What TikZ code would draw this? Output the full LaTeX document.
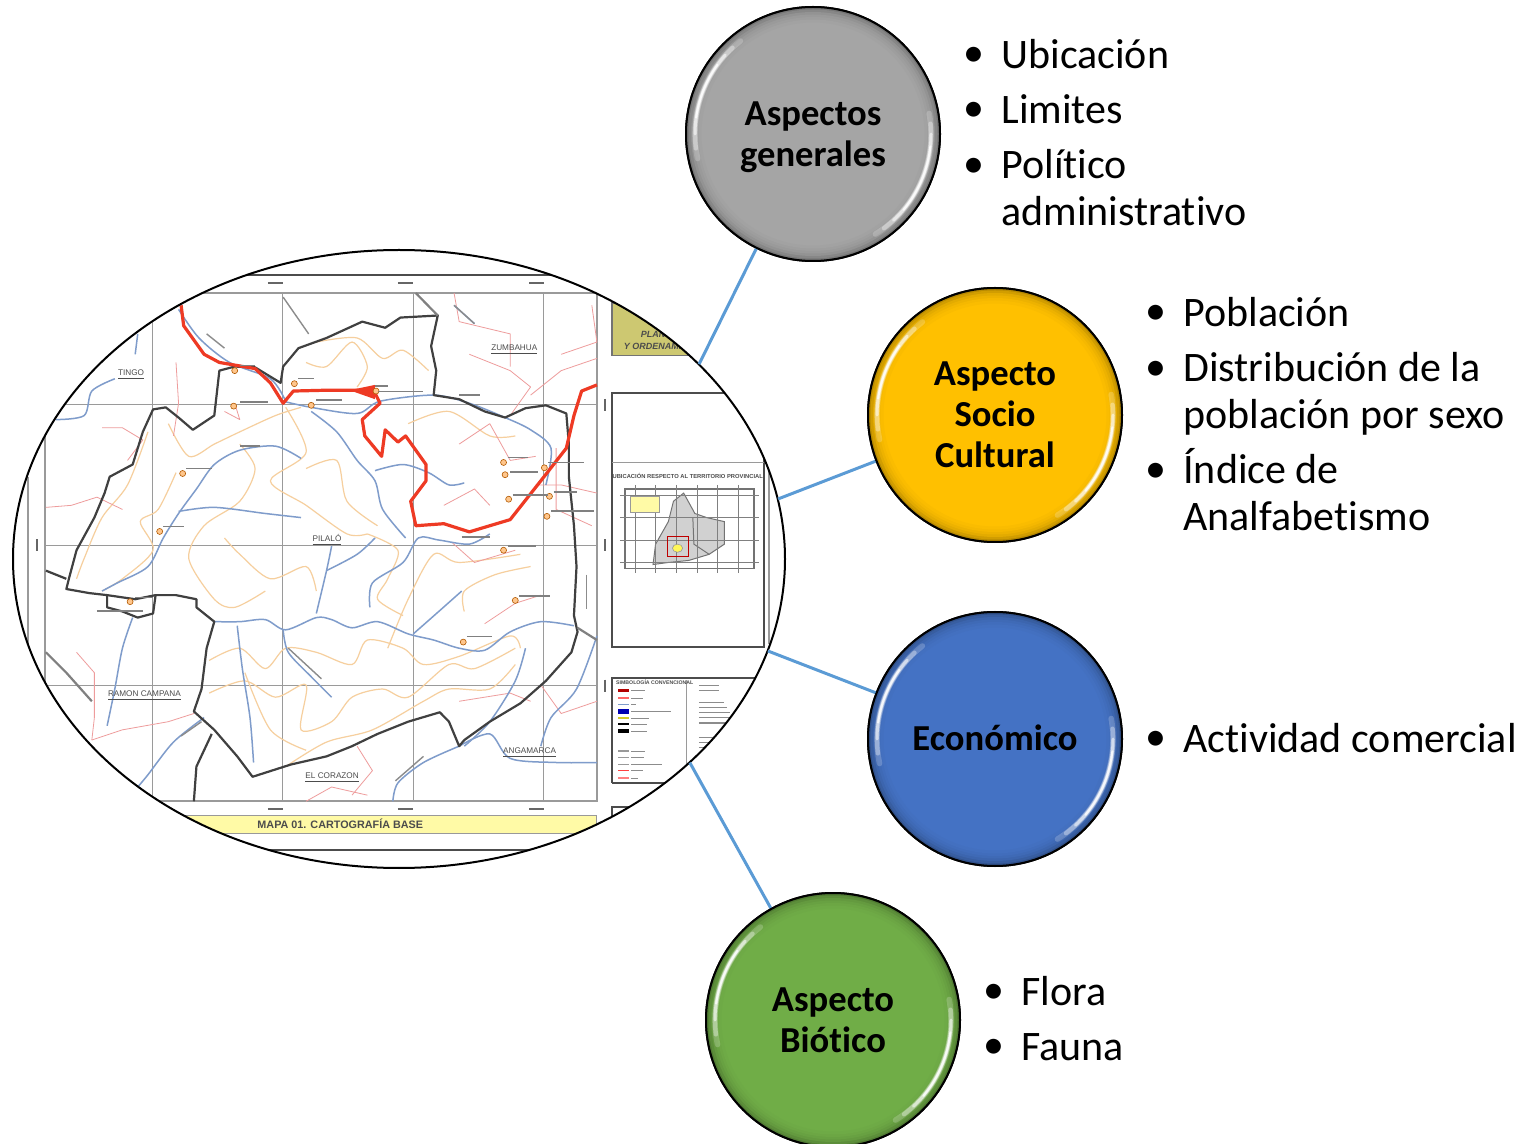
\documentclass[tikz,border=0pt]{standalone}
\usepackage{fontspec}
\setmainfont{Carlito}[Ligatures=NoCommon]
\newfontfamily\mapfont{Liberation Sans}
\usetikzlibrary{shapes.geometric,positioning}
\definecolor{gris}{HTML}{A5A5A5}
\definecolor{oro}{HTML}{FFC000}
\definecolor{azul}{HTML}{4472C4}
\definecolor{verde}{HTML}{70AD47}
\definecolor{enlace}{HTML}{5B9BD5}
\definecolor{rio}{HTML}{7F9CCB}
\definecolor{curva}{HTML}{F6CF9E}
\definecolor{camino}{HTML}{EE9C9C}
\definecolor{vial}{HTML}{EE3A24}
\definecolor{marco}{HTML}{9A9A9A}
\tikzset{tema/.style={circle,draw=black,line width=1pt,minimum size=127pt,inner sep=0pt,align=center,font=\fontsize{18.3}{20.5}\selectfont\bfseries},
         lista/.style={anchor=west,align=left,inner sep=0pt,font=\fontsize{21}{23.5}\selectfont},
         conector/.style={enlace,line width=1.5pt},
         limite/.style={black!75,line width=1.1pt,line join=round},
         rojo/.style={vial,line width=1.6pt,line join=round},
         riolinea/.style={rio,line width=.75pt,line join=round},
         curvalinea/.style={curva,line width=.6pt,line join=round},
         caminolinea/.style={camino,line width=.4pt,line join=round},
         malla/.style={marco,line width=.5pt},
         recuadro/.style={black!70,line width=1pt},
         rotulo/.style={inner sep=0pt,text=black!70,font=\mapfont\fontsize{4.1}{5}\selectfont},
         pueblo/.style={circle,draw=orange!70!black,fill=orange!45,line width=.3pt,inner sep=0pt,minimum size=3pt},
}
\newcommand{\bala}{\llap{\raisebox{.8pt}{\textbullet}\hspace{8.5pt}}}
% aro y reflejos de cada esfera
\newcommand{\esfera}[2]{
\begin{scope}[shift={(#1)},x=.5pt,y=.5pt]
\foreach \r/\k in {125.5/72,123/82,120.5/89,118/93,115.5/96,113/98}
    \draw[#2!\k!black,line width=1.5pt] (0,0) circle [radius=\r];
\foreach \ini/\fin/\w/\o in {128/192/2.8/.2,133/187/2.2/.35,138/180/1.5/.55,144/172/1/.8,
                             -58/10/2.8/.2,-53/5/2.2/.35,-47/0/1.5/.55,-40/-6/1/.8}
    \draw[white,opacity=\o,line width=\w pt,line cap=round] (\ini:118) arc [start angle=\ini,end angle=\fin,radius=118];
\end{scope}
}
\begin{document}
\begin{tikzpicture}[x=.5pt,y=-.5pt]
\useasboundingbox (0,0) rectangle (1528,1144);
\clip (0,0) rectangle (1528,1144);
\node[ellipse,fill=white,minimum width=386pt,minimum height=309pt,inner sep=0pt] (map) at (399,559) {};
\begin{scope}
\clip (map.center) ellipse [x radius=386,y radius=309];
\begin{scope}[shift={(0,240)},x=.2551pt,y=-.2041pt]
% marcos
\draw[recuadro] (400,85) -- (1130,85);
\draw[recuadro] (530,1495) -- (1060,1495);
\draw[malla,line width=.9pt] (55,580) -- (55,1010);
\draw[malla,line width=.9pt] (88,1375) -- (88,130) -- (1170,130) -- (1170,1375) -- cycle;
\foreach \x in {298,553,810,1066} \draw[malla] (\x,130) -- (\x,1375);
\foreach \y in {404,748,1092} \draw[malla] (88,\y) -- (1170,\y);
\foreach \x in {540,795,1052} {
    \draw[black!60,line width=1pt] (\x-15,105) -- (\x+15,105);
    \draw[black!60,line width=1pt] (\x-15,1393) -- (\x+15,1393);
}
\foreach \y in {404,748,1092} {
    \draw[black!60,line width=1pt] (73,\y-15) -- (73,\y+15);
    \draw[black!60,line width=1pt] (1186,\y-15) -- (1186,\y+15);
}
% curvas de nivel
\draw[curvalinea] plot[smooth,tension=.5] coordinates {(290,470) (250,600) (200,680) (165,780) (150,830)};
\draw[curvalinea] plot[smooth,tension=.5] coordinates {(345,570) (310,660) (275,690) (300,760) (240,830) (200,860)};
\draw[curvalinea] plot[smooth,tension=.5] coordinates {(330,450) (370,530) (420,500) (470,470) (540,430) (590,410)};
\draw[curvalinea] plot[smooth,tension=.5] coordinates {(560,410) (600,520) (530,590) (600,650) (680,720) (720,720)};
\draw[curvalinea] plot[smooth,tension=.5] coordinates {(470,500) (500,560) (470,640) (400,700) (370,780) (420,880) (460,900) (520,860)};
\draw[curvalinea] plot[smooth,tension=.5] coordinates {(600,560) (660,540) (680,640) (740,700)};
\draw[curvalinea] plot[smooth,tension=.5] coordinates {(440,730) (470,770) (530,830) (600,800) (620,860)};
\draw[curvalinea] plot[smooth,tension=.5] coordinates {(410,1030) (470,1000) (520,1050) (560,1000) (620,1010) (690,1040) (720,980) (790,1000) (830,1040) (900,1020) (1000,970) (1020,1000)};
\draw[curvalinea] plot[smooth,tension=.5] coordinates {(410,1110) (480,1080) (540,1120) (600,1090) (590,1200) (650,1180) (690,1120) (750,1100) (800,1120) (880,1040) (930,1050) (1010,1000)};
\draw[curvalinea] plot[smooth,tension=.5] coordinates {(620,250) (700,240) (750,290) (790,270) (840,320)};
\draw[curvalinea] plot[smooth,tension=.5] coordinates {(600,300) (640,310) (690,250) (720,310) (700,360)};
\draw[curvalinea] plot[smooth,tension=.5] coordinates {(800,450) (880,420) (960,480) (1010,480)};
\draw[curvalinea] plot[smooth,tension=.5] coordinates {(760,1000) (800,880) (850,770) (900,790) (1020,770)};
\draw[curvalinea] plot[smooth,tension=.5] coordinates {(910,910) (910,860) (970,820) (1040,800)};
\draw[curvalinea] plot[smooth,tension=.5] coordinates {(480,1060) (530,1200) (600,1250)};
\draw[curvalinea] plot[smooth,tension=.5] coordinates {(720,720) (780,760) (760,830) (740,880) (790,920)};
\draw[curvalinea] plot[smooth,tension=.5] coordinates {(560,1290) (640,1230) (730,1200) (830,1130) (880,1100) (960,1100) (1010,1040)};
% caminos
\draw[caminolinea] (90,655) -- (140,650) -- (190,630) -- (240,660);
\draw[caminolinea] (200,460) -- (240,460) -- (280,490) -- (250,540);
\draw[caminolinea] (180,1225) -- (240,1200) -- (330,1180) -- (380,1160);
\draw[caminolinea] (920,280) -- (1000,320) -- (1040,360) -- (1000,430);
\draw[caminolinea] (890,130) -- (900,200) -- (1000,230) -- (1000,310);
\draw[caminolinea] (1160,160) -- (1170,250) -- (1100,280);
\draw[caminolinea] (1170,290) -- (1100,320) -- (1040,380);
\draw[caminolinea] (885,740) -- (930,790) -- (1010,760);
\draw[caminolinea] (1050,600) -- (1100,600) -- (1170,620);
\draw[caminolinea] (1090,510) -- (1090,660) -- (1160,700);
\draw[caminolinea] (900,1130) -- (1000,1110) -- (1040,1130);
\draw[caminolinea] (900,500) -- (960,450) -- (1000,540) -- (1050,530);
\draw[caminolinea] (870,650) -- (930,610) -- (960,650);
\draw[caminolinea] (600,1375) -- (650,1340) -- (720,1360);
\draw[caminolinea] (150,1010) -- (185,1060) -- (185,1170) -- (180,1225);
\draw[caminolinea] (1060,1090) -- (1100,1160) -- (1170,1130);
\draw[caminolinea] (950,940) -- (1010,890) -- (1060,870);
\draw[caminolinea] (345,300) -- (350,400) -- (340,480);
\draw[caminolinea] (440,420) -- (470,440) -- (460,400);
\draw[caminolinea] (700,1240) -- (730,1300) -- (690,1360);
% rios
\draw[riolinea] plot[smooth,tension=.5] coordinates {(590,535) (540,505) (470,515) (420,550) (385,610) (350,670) (320,730) (290,800) (230,840) (200,860)};
\draw[riolinea] plot[smooth,tension=.5] coordinates {(350,665) (420,655) (520,670) (590,680)};
\draw[riolinea] plot[smooth,tension=.5] coordinates {(610,420) (660,470) (700,540) (735,590) (750,660) (795,730)};
\draw[riolinea] plot[smooth,tension=.5] coordinates {(735,565) (790,550) (840,570) (880,600) (910,595)};
\draw[riolinea] plot[smooth,tension=.5] coordinates {(420,935) (470,935) (520,930) (560,955) (620,925) (650,930) (690,950) (740,935) (800,965) (850,980) (900,1000) (950,1005) (1000,960) (1060,935) (1125,945)};
\draw[riolinea] plot[smooth,tension=.5] coordinates {(620,915) (640,810) (650,750)};
\draw[riolinea] plot[smooth,tension=.5] coordinates {(640,810) (700,770) (735,730)};
\draw[riolinea] plot[smooth,tension=.5] coordinates {(725,900) (730,840) (790,790) (820,730) (860,735) (920,745) (960,720)};
\draw[riolinea] plot[smooth,tension=.5] coordinates {(810,965) (860,910) (905,860)};
\draw[riolinea] plot[smooth,tension=.5] coordinates {(465,945) (475,1050) (490,1170) (497,1280)};
\draw[riolinea] plot[smooth,tension=.5] coordinates {(555,955) (565,1010) (610,1070) (650,1120)};
\draw[riolinea] plot[smooth,tension=.5] coordinates {(1030,1000) (1010,1080) (960,1180) (910,1240)};
\draw[riolinea] plot[smooth,tension=.5] coordinates {(350,170) (390,240) (450,300) (530,340) (560,395)};
\draw[riolinea] plot[smooth,tension=.5] coordinates {(555,395) (610,410) (700,425) (745,395) (850,380) (920,400) (990,435) (1040,465) (1080,510) (1070,600)};
\draw[riolinea] plot[smooth,tension=.5] coordinates {(260,925) (240,1000) (225,1100) (210,1190)};
\draw[riolinea] plot[smooth,tension=.5] coordinates {(400,1170) (340,1230) (290,1310) (270,1340)};
\draw[riolinea] plot[smooth,tension=.5] coordinates {(225,340) (180,370) (165,430) (110,440)};
\draw[riolinea] plot[smooth,tension=.5] coordinates {(270,230) (265,280)};
\draw[riolinea] plot[smooth,tension=.5] coordinates {(900,1240) (960,1210) (1000,1270) (1090,1280) (1170,1280)};
\draw[riolinea] plot[smooth,tension=.5] coordinates {(1170,970) (1130,1100) (1080,1170) (1060,1240)};
\draw[riolinea] plot[smooth,tension=.5] coordinates {(900,1240) (830,1280) (780,1330) (770,1375)};
\draw[riolinea] plot[smooth,tension=.5] coordinates {(890,160) (930,205)};
% limite parroquial
\draw[limite] (135,830) -- (150,760) -- (185,680) -- (205,620) -- (215,580) -- (260,550) -- (280,470) -- (300,415) -- (325,410) -- (350,435) -- (378,465) -- (420,430) -- (430,320) -- (460,310) -- (500,312) -- (550,350) -- (555,310) -- (585,265) -- (640,240) -- (710,200) -- (755,215) -- (785,190) -- (858,185) -- (845,260) -- (855,320) -- (850,380) -- (900,390) -- (950,420) -- (990,435) -- (1030,412) -- (1070,405) -- (1110,425) -- (1115,500) -- (1115,580) -- (1125,700) -- (1130,800) -- (1125,920) -- (1132,960) -- (1120,1010) -- (1070,1080) -- (1020,1135) -- (960,1180) -- (910,1225) -- (900,1240) -- (880,1180) -- (862,1157) -- (800,1180) -- (740,1210) -- (690,1240) -- (640,1265) -- (570,1285) -- (495,1315) -- (465,1265) -- (420,1200) -- (380,1155) -- (395,1100) -- (405,1000) -- (420,935) -- (385,900) -- (385,880) -- (345,870) -- (305,870) -- (265,880) -- (210,870) -- (175,865) -- (130,855) -- cycle;
\draw[limite] (90,810) -- (130,830);
\draw[limite] (210,870) -- (210,900) -- (240,910) -- (270,925) -- (300,915) -- (305,870);
\draw[limite] (415,1210) -- (385,1290) -- (380,1375);
\draw[limite,black!50] (90,1010) -- (130,1060) -- (180,1130);
\draw[limite,black!50] (1132,950) -- (1170,980);
\draw[limite,black!50] (815,130) -- (858,185);
% vias
\draw[rojo] (355,160) -- (360,210) -- (400,280) -- (430,300) -- (500,315) -- (530,350) -- (555,400) -- (575,370) -- (640,368) -- (700,368) -- (735,375) -- (745,400) -- (710,440) -- (715,480) -- (748,530) -- (755,465) -- (780,495) -- (795,480) -- (835,550) -- (835,590) -- (805,640) -- (815,700) -- (870,695) -- (920,715) -- (1000,685) -- (1060,590) -- (1110,510) -- (1125,430) -- (1140,370) -- (1170,355);
\fill[vial] (685,368) -- (735,355) -- (735,390) -- cycle;
% poblados
\foreach \x/\y in {460/320,577/352,458/407,610/405,737/370,358/572,313/714,255/886,987/545,990/575,997/635,1067/558,1077/628,1072/677,987/760,1010/883,908/985}
    \node[pueblo] (p\x) at (\x,\y) {};
\foreach \x/\y/\l in {470/308/30,585/340/30,470/397/55,620/392/50,735/358/25,740/371/90,365/560/50,320/702/40,265/876/35,995/533/40,1000/568/55,1005/625/70,1075/545/70,1085/617/45,1080/664/85,995/750/55,1018/872/60,915/972/50,190/909/90,470/505/40,900/380/40,905/728/55}
    \draw[black!50,line width=.7pt] (\x,\y) -- ++(\l,0);
\foreach \xa/\ya/\xb/\yb in {555/140/605/230,405/230/440/265,565/1000/630/1075,355/1215/395/1180,775/1325/830/1265,890/160/930/205,1150/820/1150/905}
    \draw[black!45,line width=.7pt] (\xa,\ya) -- (\xb,\yb);
% lugares
\node[rotulo] (tingo) at (257,331) {\underline{TINGO}};
\node[rotulo] (zumbahua) at (1008,269) {\underline{ZUMBAHUA}};
\node[rotulo] (pilalo) at (641,735) {\underline{PILALÓ}};
\node[rotulo] (ramon) at (283,1116) {\underline{RAMON CAMPANA}};
\node[rotulo] (corazon) at (651,1318) {\underline{EL CORAZON}};
\node[rotulo] (angamarca) at (1038,1257) {\underline{ANGAMARCA}};
% titulo
\fill[yellow!35] (345,1410) rectangle (1170,1453);
\draw[black!40,line width=.5pt] (345,1410) rectangle (1170,1453);
\node[rotulo,font=\mapfont\bfseries\fontsize{5.4}{6.5}\selectfont] (titulo) at (667,1431) {MAPA 01. CARTOGRAFÍA BASE};
% ficha superior
\fill[olive!45!white] (1200,155) rectangle (1370,283);
\draw[black!55,line width=.8pt] (1200,155) rectangle (1370,283);
\node[rotulo,anchor=east,font=\mapfont\bfseries\itshape\fontsize{4.5}{5.5}\selectfont] (plan) at (1305,232) {PLAN};
\node[rotulo,anchor=west,font=\mapfont\bfseries\itshape\fontsize{4.5}{5.5}\selectfont] (orden) at (1222,260) {Y ORDENAMIENTO};
% ubicacion
\draw[recuadro] (1200,375) rectangle (1497,998);
\draw[malla] (1200,545) -- (1497,545);
\draw[marco,line width=1pt] (1508,560) -- (1508,990);
\node[rotulo,font=\mapfont\bfseries\fontsize{2.9}{3.5}\selectfont] (ubic) at (1348,578) {UBICACIÓN RESPECTO AL TERRITORIO PROVINCIAL};
\fill[black!18,draw=black!55,line width=.5pt] (1280,795) -- (1285,745) -- (1310,690) -- (1320,640) -- (1340,620) -- (1362,670) -- (1385,680) -- (1420,690) -- (1420,745) -- (1390,770) -- (1350,785) -- (1310,790) -- cycle;
\draw[black!55,line width=.5pt] (1358,680) -- (1360,745) -- (1390,770);
\draw[black!55,line width=.7pt] (1225,610) rectangle (1478,805);
\foreach \x in {1245,1285,1325,1367,1407,1447} \draw[black!50,line width=.4pt] (\x,600) -- (\x,815);
\foreach \y in {625,680,737,790} \draw[black!50,line width=.4pt] (1215,\y) -- (1488,\y);
\fill[yellow!35,draw=black!40,line width=.3pt] (1235,627) rectangle (1293,667);
\draw[red!75!black,line width=.7pt] (1308,727) rectangle (1350,775);
\fill[yellow!65!white,draw=black!40,line width=.3pt] (1328,755) circle [radius=10];
% simbologia
\draw[recuadro] (1200,1330) -- (1200,1072) -- (1500,1072);
\draw[recuadro] (1200,1330) -- (1400,1330);
\draw[malla] (1345,1078) -- (1345,1300);
\node[rotulo,anchor=west,font=\mapfont\bfseries\fontsize{2.6}{3}\selectfont] (simb) at (1207,1083) {SIMBOLOGÍA CONVENCIONAL};
\foreach \y/\c/\w in {1103/red!70!black/1.6,1122/red!60/.7,1138/rio/.7,1155/blue!70!black/2.4,1171/yellow!80!black/.7,1186/black/1.2,1203/black/1.6,1252/black!40/.7,1268/black!40/.7,1285/black!40/.7,1300/red!75/.8,1318/red!50/.6}
    \draw[\c,line width=\w pt] (1212,\y) -- (1232,\y);
\foreach \y/\l in {1103/28,1122/24,1138/10,1155/78,1171/36,1186/32,1203/32,1252/28,1268/26,1285/60,1300/24,1318/14}
    \draw[black!45,line width=.5pt] (1237,\y) -- ++(\l,0);
\foreach \y/\l in {1092/40,1104/40,1133/50,1145/55,1158/60,1170/60,1183/60,1218/40,1231/40,1244/30}
    \draw[black!45,line width=.6pt] (1370,\y) -- ++(\l,0);
\draw[recuadro] (1200,1440) -- (1200,1388) -- (1280,1388);
\end{scope}
\end{scope}
\draw[black,line width=1pt] (map.center) ellipse [x radius=386,y radius=309];
% temas
\node[tema,fill=gris] (generales) at (813,134) {};
\node[tema,fill=oro] (socio) at (995,415) {};
\node[tema,fill=azul] (economico) at (995,739) {};
\node[tema,fill=verde] (biotico) at (833,1020) {};
\draw[conector] (map.33) -- (generales);
\draw[conector] (map.9) -- (socio);
\draw[conector] (map.-14) -- (economico);
\draw[conector] (map.-35) -- (biotico);
\esfera{generales}{gris}
\esfera{socio}{oro}
\esfera{economico}{azul}
\esfera{biotico}{verde}
\node[tema,draw=none] (tgenerales) at (813,137) {Aspectos\\generales};
\node[tema,draw=none] (tsocio) at (995,415) {Aspecto\\Socio\\Cultural};
\node[tema,draw=none] (teconomico) at (995,738) {Económico};
\node[tema,draw=none] (tbiotico) at (833,1020) {Aspecto\\Biótico};
\draw[black,line width=1pt] (generales) circle [radius=127];
\draw[black,line width=1pt] (socio) circle [radius=127];
\draw[black,line width=1pt] (economico) circle [radius=127];
\draw[black,line width=1pt] (biotico) circle [radius=127];
% listas
\node[lista] (ubicacion) at (1001,54) {\bala Ubicación};
\node[lista] (limites) at (1001,109) {\bala Limites};
\node[lista] (politico) at (1001,188) {\bala Político\\administrativo};
\node[lista] (poblacion) at (1183,312) {\bala Población};
\node[lista] (distribucion) at (1183,394) {\bala Distribución de la\\población por sexo};
\node[lista] (indice) at (1183,490) {\bala Índice de\\Analfabetismo};
\node[lista] (actividad) at (1183,738) {\bala Actividad comercial};
\node[lista] (flora) at (1021,991) {\bala Flora};
\node[lista] (fauna) at (1021,1047) {\bala Fauna};
\end{tikzpicture}
\end{document}
